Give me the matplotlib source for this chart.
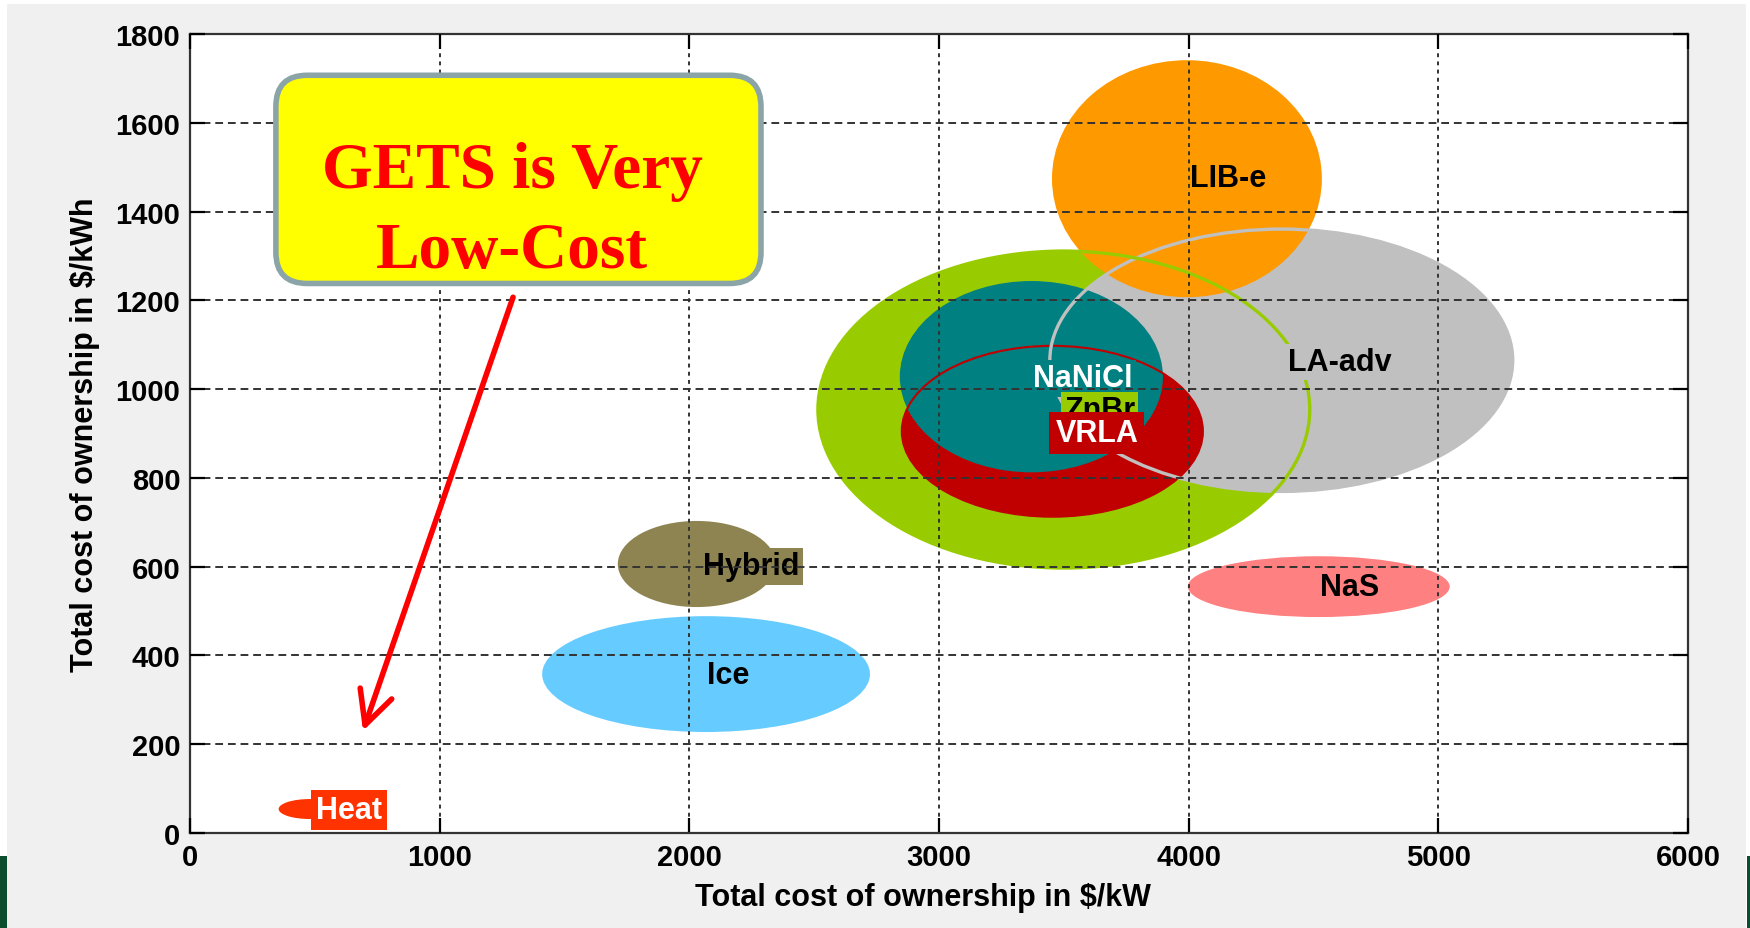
import matplotlib
matplotlib.use("Agg")
import matplotlib.pyplot as plt
from matplotlib.patches import Ellipse, FancyBboxPatch, Rectangle

plt.rcParams['font.family'] = ['Liberation Sans', 'DejaVu Sans']
plt.rcParams['font.weight'] = 'bold'

# technologies: centre and extent of each bubble, in $/kW and $/kWh
names = ['LIB-e', 'LA-adv', 'ZnBr', 'NaNiCl', 'VRLA', 'NaS', 'Hybrid', 'Ice', 'Heat']
cost_kw = [3993, 4371, 3500, 3370, 3454, 4521, 2030, 2067, 480]
cost_kwh = [1474, 1065, 954, 1028, 905, 555, 606, 358, 54]
span_kw = [1081, 1854, 1970, 1054, 1206, 1049, 633, 1313, 250]
span_kwh = [534, 591, 714, 431, 385, 137, 194, 261, 45]
label_kw = [4157, 4606, 3644, 3576, 3632, 4646, 2247, 2155, 637]
label_kwh = [1475, 1061, 952, 1024, 902, 554, 601, 356, 52]

colors = {'LIB-e': '#ff9900', 'LA-adv': '#c0c0c0', 'ZnBr': '#99cc00',
          'NaNiCl': '#008080', 'VRLA': '#c00000', 'NaS': '#ff8080',
          'Hybrid': '#8e8452', 'Ice': '#66ccff', 'Heat': '#ff3300'}
# stacking of the fills (the original is an overlay of shapes)
fill_z = {'ZnBr': 1.0, 'LA-adv': 1.1, 'LIB-e': 1.2, 'VRLA': 1.3, 'NaNiCl': 1.4,
          'NaS': 1.0, 'Hybrid': 1.0, 'Ice': 1.0, 'Heat': 1.0}
# ellipses whose outline shows on top of the others
outline_z = {'VRLA': (1.5, 1.5), 'LA-adv': (1.6, 2.4), 'ZnBr': (1.7, 2.4)}
# label styles: text colour, box colour (None = no box), zorder, box pad
label_style = {'LIB-e': ('black', None, 2, 0), 'LA-adv': ('black', '#c0c0c0', 2, 0.1),
               'ZnBr': ('black', '#99cc00', 2.6, 0.1), 'NaNiCl': ('white', '#008080', 2, 0.1),
               'VRLA': ('white', '#c00000', 2.7, 0.2), 'NaS': ('black', None, 2, 0),
               'Hybrid': ('black', '#8e8452', 2, 0.12), 'Ice': ('black', None, 2, 0),
               'Heat': ('white', '#ff3300', 2.6, 0.15)}

xticks = [0, 1000, 2000, 3000, 4000, 5000, 6000]
yticks = [0, 200, 400, 600, 800, 1000, 1200, 1400, 1600, 1800]

note_lines = ['GETS is Very', 'Low-Cost']
note_box = (344, 1238, 1943, 469)   # x, y, w, h in data units
note_x = 1290
note_y = [1455, 1274]
arrow_from = (1294, 1207)
arrow_to = (693, 230)

fig = plt.figure(figsize=(17.5, 9.29), dpi=100, facecolor='white')
fig.patches.append(Rectangle((7 / 1750, 0), 1739 / 1750, 924 / 929,
                             transform=fig.transFigure, fc='#f0f0f0', ec='none', zorder=-5))
fig.patches.append(Rectangle((0, 0), 7 / 1750, 72 / 929,
                             transform=fig.transFigure, fc='#0b4d2c', ec='none', zorder=-4))
fig.patches.append(Rectangle((1747 / 1750, 0), 3 / 1750, 72 / 929,
                             transform=fig.transFigure, fc='#0b4d2c', ec='none', zorder=-4))

ax = fig.add_axes([190 / 1750, 95 / 929, 1498 / 1750, 799 / 929])
ax.set_facecolor('white')

for i, n in enumerate(names):
    ax.add_patch(Ellipse((cost_kw[i], cost_kwh[i]), span_kw[i], span_kwh[i],
                         fc=colors[n], ec='none', zorder=fill_z[n]))
    if n in outline_z:
        z, lw = outline_z[n]
        ax.add_patch(Ellipse((cost_kw[i], cost_kwh[i]), span_kw[i], span_kwh[i],
                             fc='none', ec=colors[n], lw=lw, zorder=z))

for i, n in enumerate(names):
    tc, bc, z, pad = label_style[n]
    bbox = None
    if bc is not None:
        bbox = dict(boxstyle='square,pad=%g' % pad, fc=bc, ec='none')
    ax.text(label_kw[i], label_kwh[i], n, color=tc, fontsize=22, fontweight='bold',
            ha='center', va='center', bbox=bbox, zorder=z)

ax.set_xlim(0, 6000)
ax.set_ylim(0, 1800)
ax.set_xticks(xticks)
ax.set_yticks(yticks)
ax.set_axisbelow(False)
ax.xaxis.grid(True, color='#333333', linestyle=(0, (2, 2.2)), lw=1.4)
ax.yaxis.grid(True, color='#333333', linestyle=(0, (4, 2.5)), lw=1.4)
ax.tick_params(direction='in', length=11, width=1.6, top=True, right=True,
               labelsize=21, pad=7, colors='black')
for s in ax.spines.values():
    s.set_linewidth(1.6)
    s.set_color('#333333')

ax.set_xlabel('Total cost of ownership in $/kW', fontsize=22, fontweight='bold')
ax.set_ylabel('Total cost of ownership in $/kWh', fontsize=22, fontweight='bold')
ax.xaxis.set_label_coords(0.489, -0.061)
ax.yaxis.set_label_coords(-0.060, 0.5)

# call-out box
bx, by, bw, bh = note_box
ax.add_patch(FancyBboxPatch((bx, by), bw, bh,
                            boxstyle='round,pad=0,rounding_size=125',
                            mutation_aspect=0.5625, fc='#ffff00', ec='#8aa4a8',
                            lw=4, zorder=3))
for t, yy in zip(note_lines, note_y):
    ax.text(note_x, yy, t, color='#ff0000', fontsize=47, fontweight='bold',
            family=['Liberation Serif', 'DejaVu Serif'], ha='center',
            va='baseline', zorder=3.5)

ax.annotate('', xy=arrow_to, xytext=arrow_from,
            arrowprops=dict(arrowstyle='->,head_length=1.2,head_width=0.6',
                            lw=4, color='#ff0000', shrinkA=0, shrinkB=0,
                            mutation_scale=20, capstyle='round'),
            zorder=3)

fig.savefig('out.png', dpi=100, facecolor=fig.get_facecolor())
